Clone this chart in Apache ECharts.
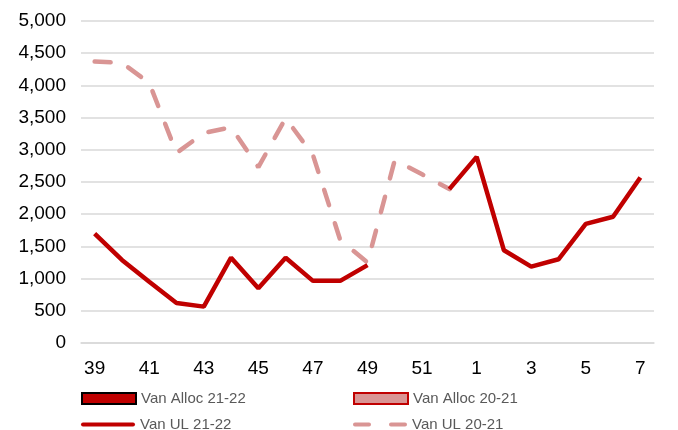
<!DOCTYPE html>
<html>
<head>
<meta charset="utf-8">
<script src="https://cdn.jsdelivr.net/npm/echarts@6/dist/echarts.min.js"></script>
<style>
html, body { margin: 0; padding: 0; background: #fff; }
#main { width: 678px; height: 430px; }
</style>
</head>
<body>
<div id="main"></div>
<script>
// weeks 39..52 then 1..7
var weeks = ['39','40','41','42','43','44','45','46','47','48','49','50','51','52','1','2','3','4','5','6','7'];
var ul2122 = [1700, 1290, 950, 620, 565, 1325, 850, 1325, 965, 965, 1210, null, null, 2390, 2890, 1440, 1185, 1300, 1850, 1960, 2570];
var ul2021 = [4370, 4350, 4040, 2950, 3260, 3350, 2730, 3490, 2920, 1600, 1250, 2840, 2620, 2390, null, null, null, null, null, null, null];
var alloc2122 = [];
var alloc2021 = [];

var myChart = echarts.init(document.getElementById('main'));

var legendText = { fontFamily: 'Liberation Sans', fontSize: 15, color: '#595959' };

function oneLegend(name, left, top, icon, h) {
    return {
        left: left, top: top, padding: 0, itemGap: 0,
        itemWidth: 54, itemHeight: h, textStyle: legendText,
        data: [{ name: name, icon: icon }]
    };
}

var option = {
    animation: false,
    textStyle: { fontFamily: 'Liberation Sans' },
    grid: { left: 81, right: 24, top: 21, bottom: 87 },
    legend: [
        oneLegend('Van Alloc 21-22', 81, 391, 'rect', 11),
        oneLegend('Van Alloc 20-21', 353, 391, 'rect', 11),
        oneLegend('Van UL 21-22', 81, 417, 'path://M2,0H52A2,2 0 0 1 52,4H2A2,2 0 0 1 2,0Z', 5),
        oneLegend('Van UL 20-21', 353, 417, 'path://M2,0H16A2,2 0 0 1 16,4H2A2,2 0 0 1 2,0Z M38,0H52A2,2 0 0 1 52,4H38A2,2 0 0 1 38,0Z', 5)
    ],
    xAxis: {
        type: 'category',
        data: weeks,
        boundaryGap: true,
        axisLine: { lineStyle: { color: '#d9d9d9', width: 1.5 } },
        axisTick: { show: false },
        axisLabel: { interval: 1, color: '#000', fontSize: 19, margin: 16 }
    },
    yAxis: {
        type: 'value',
        min: 0, max: 5000, interval: 500,
        axisLine: { show: false },
        axisTick: { show: false },
        splitLine: { lineStyle: { color: '#d9d9d9', width: 1.5 } },
        axisLabel: {
            color: '#000', fontSize: 19, margin: 15,
            formatter: function (v) { return v.toLocaleString('en-US'); }
        }
    },
    series: [
        {
            name: 'Van Alloc 21-22', type: 'bar', data: alloc2122,
            itemStyle: { color: '#c00000', borderColor: '#000', borderWidth: 1.5 }
        },
        {
            name: 'Van Alloc 20-21', type: 'bar', data: alloc2021,
            itemStyle: { color: '#d99594', borderColor: '#c00000', borderWidth: 1.5 }
        },
        {
            name: 'Van UL 21-22', type: 'line', data: ul2122,
            symbol: 'none', connectNulls: false, z: 3,
            lineStyle: { color: '#c00000', width: 4.5 },
            itemStyle: { color: '#c00000' }
        },
        {
            name: 'Van UL 20-21', type: 'line', data: ul2021,
            symbol: 'none', connectNulls: false, z: 2,
            lineStyle: { color: '#d99594', width: 4.5, type: [16, 19], cap: 'round' },
            itemStyle: { color: '#d99594' }
        }
    ]
};

myChart.setOption(option);
</script>
</body>
</html>
